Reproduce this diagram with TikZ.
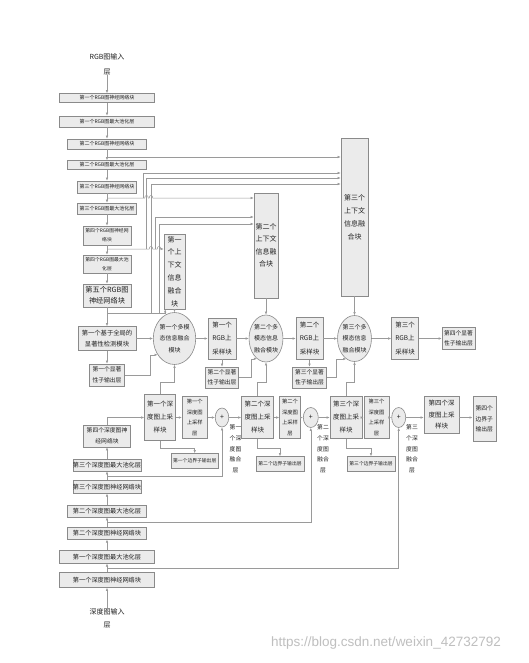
\documentclass[tikz,border=0pt]{standalone}
\usepackage{fontspec}
\newfontfamily\cjk{Noto Sans CJK SC}
\newfontfamily\wmfont{Liberation Sans}
\usetikzlibrary{arrows.meta,shapes.geometric}
\definecolor{lnc}{HTML}{9A9A9A}
\definecolor{bdc}{HTML}{8A8A8A}
\definecolor{bfc}{HTML}{EBEBEB}
\definecolor{txc}{HTML}{222222}
\begin{document}
\begin{tikzpicture}[x=1pt,y=-1pt,
 fs/.style 2 args={font={\cjk\fontsize{#1}{#2}\selectfont}},
 box/.style={draw=bdc, fill=bfc, line width=0.6pt, inner sep=0pt, align=center, text=txc},
 ell/.style={ellipse, draw=bdc, fill=bfc, line width=0.6pt, inner sep=0pt, align=center, text=txc},
 lbl/.style={inner sep=0pt, align=center, text=txc},
 arr/.style={draw=lnc, line width=0.5pt, -{Latex[length=3pt,width=2.4pt]}}]
\useasboundingbox (0,0) rectangle (528,663);
\fill[white] (0,0) rectangle (528,663);

% RGB column
\node[lbl, fs={7}{15}] (rgbin) at (107,64.5) {RGB图输入\\层};
\node[box, minimum width=95, minimum height=9, fs={5}{6}] (r1) at (107,98) {第一个RGB图神经网络块};
\node[box, minimum width=95, minimum height=11, fs={5}{6}] (r2) at (107,121.5) {第一个RGB图最大池化层};
\node[box, minimum width=79, minimum height=10, fs={5}{6}] (r3) at (107,144) {第二个RGB图神经网络块};
\node[box, minimum width=79, minimum height=9, fs={5}{6}] (r4) at (107,165) {第二个RGB图最大池化层};
\node[box, minimum width=59, minimum height=12, fs={5}{6}] (r5) at (107,187) {第三个RGB图神经网络块};
\node[box, minimum width=59, minimum height=11, fs={5}{6}] (r6) at (107,208.5) {第三个RGB图最大池化层};
\node[box, minimum width=48, minimum height=19, fs={4.8}{9}] (r7) at (107,235.5) {第四个RGB图神经网\\络块};
\node[box, minimum width=48, minimum height=18, fs={4.8}{9}] (r8) at (107,264) {第四个RGB图最大池\\化层};
\node[box, minimum width=48, minimum height=23, fs={7.2}{11}] (r9) at (107,295.5) {第五个RGB图\\神经网络块};
\node[box, minimum width=58, minimum height=24, fs={6.3}{11}] (r10) at (107,338.5) {第一个基于全局的\\显著性检测模块};
\node[box, minimum width=35, minimum height=22, fs={5.8}{10.5}] (r11) at (107,375) {第一个显著\\性子输出层};

% context fusion blocks
\node[box, minimum width=21, minimum height=75, fs={7}{12.8}] (c1) at (174.5,271.5) {第一\\个上\\下文\\信息\\融合\\块};
\node[box, minimum width=24, minimum height=105, fs={7}{12.5}] (c2) at (266,245.5) {第二个\\上下文\\信息融\\合块};
\node[box, minimum width=27, minimum height=158, fs={7}{13}] (c3) at (354.5,217) {第三个\\上下文\\信息融\\合块};

% multimodal fusion and RGB upsampling
\node[ell, minimum width=33, minimum height=52, fs={6}{11.5}] (m1) at (174.5,338.5) {第一个多模\\态信息融合\\模块};
\node[box, minimum width=28, minimum height=41, fs={6.5}{13.5}] (u1) at (222,338.5) {第一个\\RGB上\\采样块};
\node[ell, minimum width=27, minimum height=47, fs={6}{11.5}] (m2) at (266,338.5) {第二个多\\模态信息\\融合模块};
\node[box, minimum width=27, minimum height=42, fs={6.5}{13.5}] (u2) at (309.5,338.5) {第二个\\RGB上\\采样块};
\node[ell, minimum width=29, minimum height=46, fs={6}{11.5}] (m3) at (354.5,338.5) {第三个多\\模态信息\\融合模块};
\node[box, minimum width=27, minimum height=42, fs={6.5}{13.5}] (u3) at (405,338.5) {第三个\\RGB上\\采样块};
\node[box, minimum width=33, minimum height=22, fs={5.8}{10.5}] (s4) at (458.5,338.5) {第四个显著\\性子输出层};
\node[box, minimum width=33, minimum height=21, fs={5.8}{10.5}] (s2) at (222,377.5) {第二个显著\\性子输出层};
\node[box, minimum width=34, minimum height=21, fs={5.8}{10.5}] (s3) at (309.5,377.5) {第三个显著\\性子输出层};

% depth decoder
\node[box, minimum width=31, minimum height=46, fs={6.5}{13}] (du1) at (160,417.5) {第一个深\\度图上采\\样块};
\node[box, minimum width=25, minimum height=42, fs={5.3}{10.8}] (dl1) at (194.7,417.5) {第一个\\深度图\\上采样\\层};
\node[ell, minimum width=13.5, minimum height=19, fs={7}{8}] (p1) at (222,417.5) {+};
\node[lbl, fs={5.8}{10.8}] (f1) at (235.5,449) {第一\\个深\\度图\\融合\\层};
\node[box, minimum width=32, minimum height=42, fs={6.5}{13}] (du2) at (257.5,417.5) {第二个深\\度图上采\\样块};
\node[box, minimum width=21, minimum height=42, fs={5.3}{10.8}] (dl2) at (290,417.5) {第二个\\深度图\\上采样\\层};
\node[ell, minimum width=15, minimum height=20, fs={7}{8}] (p2) at (310.8,417.5) {+};
\node[lbl, fs={5.8}{10.8}] (f2) at (323,449) {第二\\个深\\度图\\融合\\层};
\node[box, minimum width=32, minimum height=42, fs={6.5}{13}] (du3) at (346,417.5) {第三个深\\度图上采\\样块};
\node[box, minimum width=25, minimum height=42, fs={5.3}{10.8}] (dl3) at (376.5,417.5) {第三个\\深度图\\上采样\\层};
\node[ell, minimum width=14, minimum height=20, fs={7}{8}] (p3) at (398.7,417.5) {+};
\node[lbl, fs={5.8}{10.8}] (f3) at (412,449) {第三\\个深\\度图\\融合\\层};
\node[box, minimum width=35, minimum height=37, fs={6.5}{11.5}] (du4) at (441.5,415) {第四个深\\度图上采\\样块};
\node[box, minimum width=23, minimum height=45, fs={5.8}{10.8}] (b4) at (484.3,419) {第四个\\边界子\\输出层};
\node[box, minimum width=47, minimum height=15, fs={4.8}{6}] (b1) at (194.7,461) {第一个边界子输出层};
\node[box, minimum width=48, minimum height=15, fs={4.8}{6}] (b2) at (280,464) {第二个边界子输出层};
\node[box, minimum width=48, minimum height=15, fs={4.8}{6}] (b3) at (371,464) {第三个边界子输出层};

% depth column
\node[box, minimum width=47, minimum height=22, fs={5.8}{11}] (d4) at (107,436) {第四个深度图神\\经网络块};
\node[box, minimum width=68, minimum height=12, fs={6.2}{7}] (d3p) at (107,465) {第三个深度图最大池化层};
\node[box, minimum width=68, minimum height=12.5, fs={6.2}{7}] (d3n) at (107,487) {第三个深度图神经网络块};
\node[box, minimum width=79, minimum height=12, fs={6.2}{7}] (d2p) at (107,511) {第二个深度图最大池化层};
\node[box, minimum width=79, minimum height=12, fs={6.2}{7}] (d2n) at (107,533.3) {第二个深度图神经网络块};
\node[box, minimum width=95, minimum height=13, fs={6.2}{7}] (d1p) at (107,556.7) {第一个深度图最大池化层};
\node[box, minimum width=95, minimum height=15, fs={6.2}{7}] (d1n) at (107,580) {第一个深度图神经网络块};
\node[lbl, fs={7}{13}] (din) at (107,618) {深度图输入\\层};

% watermark
\node[inner sep=0pt, text=black!25, font={\wmfont\fontsize{13.5}{15}\selectfont}] (wm) at (386,643) {https://blog.csdn.net/weixin\_42732792};

% RGB column arrows
\draw[arr] (rgbin) -- (r1);
\draw[arr] (r1) -- (r2);
\draw[arr] (r2) -- (r3);
\draw[arr] (r3) -- (r4);
\draw[arr] (r4) -- (r5);
\draw[arr] (r5) -- (r6);
\draw[arr] (r6) -- (r7);
\draw[arr] (r7) -- (r8);
\draw[arr] (r8) -- (r9);
\draw[arr] (r9) -- (r10);
\draw[arr] (r10) -- (r11);

% encoder to context blocks
\coordinate (ja) at (107,157);
\draw[arr] (ja) -- (ja -| c3.west);
\coordinate (jb) at (107,198);
\coordinate (jb1) at (143,198);
\draw[arr] (jb) -- (144.7,198) .. controls (144.7,194.6) and (148.3,194.6) .. (148.3,198)
  -- (149.2,198) .. controls (149.2,194.6) and (152.8,194.6) .. (152.8,198) -- (jb -| c2.west);
\draw[arr] (jb1) |- (c3.west |- 0,173);
\coordinate (jc) at (107,249);
\coordinate (jc1) at (146.5,249);
\coordinate (jc2) at (155,249);
\draw[arr] (jc) -- (149.2,249) .. controls (149.2,245.6) and (152.8,245.6) .. (152.8,249)
  -- (157.2,249) .. controls (157.2,245.6) and (160.8,245.6) .. (160.8,249) -- (jc -| c1.west);
\draw[arr] (jc1) |- (c3.west |- 0,178);
\draw[arr] (jc2) |- (c2.west |- 0,217);
\coordinate (jd) at (107,313);
\coordinate (jd1) at (151,313);
\coordinate (jd2) at (159,313);
\draw[arr] (jd) -| ([xshift=1.5pt]c1.south west);
\draw[arr] (jd1) |- (c3.west |- 0,184);
\draw[arr] (jd2) |- (c2.west |- 0,224);

% context to fusion
\draw[arr] (c1) -- (m1);
\draw[arr] (c2) -- (m2);
\draw[arr] (c3) -- (m3);

% main RGB chain
\draw[arr] (r10) -- (m1);
\draw[arr] (m1) -- (u1);
\draw[arr] (u1) -- (m2);
\draw[arr] (m2) -- (u2);
\draw[arr] (u2) -- (m3);
\draw[arr] (m3) -- (u3);
\draw[arr] (u3) -- (s4);
\draw[arr] (u1) -- (s2);
\draw[arr] (u2) -- (s3);

% saliency outputs to fusion
\draw[arr] (r11.east) -- ++(25,0) |- (m1.224);
\draw[arr] (s2.east) -- ++(12.5,0) |- (m2.246);
\draw[arr] (s3.east) -- ++(9.5,0) |- (m3.248);

% depth upsample to fusion
\draw[arr] (du1.north) -- ++(0,-12) -| (m1.south);
\draw[arr] (du2.north) -- ++(0,-14) -| (m2.south);
\draw[arr] (du3.north) -- ++(0,-14) -| (m3.south);

% depth upsample to boundary outputs
\draw[arr] (du1.south) -- ++(0,7.5) -| (b1.north);
\draw[arr] (du2.south) -- ++(0,9.5) -| (b2.north);
\draw[arr] (du3.south) -- ++(0,9.5) -| (b3.north);

% depth chain
\draw[arr] (d4.north) |- (du1.west);
\draw[arr] (du1) -- (dl1);
\draw[arr] (dl1) -- (p1);
\draw[arr] (p1) -- (du2);
\draw[arr] (du2) -- (dl2);
\draw[arr] (dl2) -- (p2);
\draw[arr] (p2) -- (du3);
\draw[arr] (du3) -- (dl3);
\draw[arr] (dl3) -- (p3);
\draw[arr] (p3.east) -- (p3.east -| du4.west);
\draw[arr] (p3.east -| du4.east) -- (p3.east -| b4.west);

% depth column arrows
\draw[arr] (din) -- (d1n);
\draw[arr] (d1n) -- (d1p);
\draw[arr] (d1p) -- (d2n);
\draw[arr] (d2n) -- (d2p);
\draw[arr] (d2p) -- (d3n);
\draw[arr] (d3n) -- (d3p);
\draw[arr] (d3p) -- (d4);

% depth encoder to fusion layers
\coordinate (k1) at (107,476);
\coordinate (k2) at (107,522);
\coordinate (k3) at (107,567.8);
\draw[arr] (k1) -| (p1.south);
\draw[arr] (k2) -| (p2.south);
\draw[arr] (k3) -| (p3.south);
\end{tikzpicture}
\end{document}
